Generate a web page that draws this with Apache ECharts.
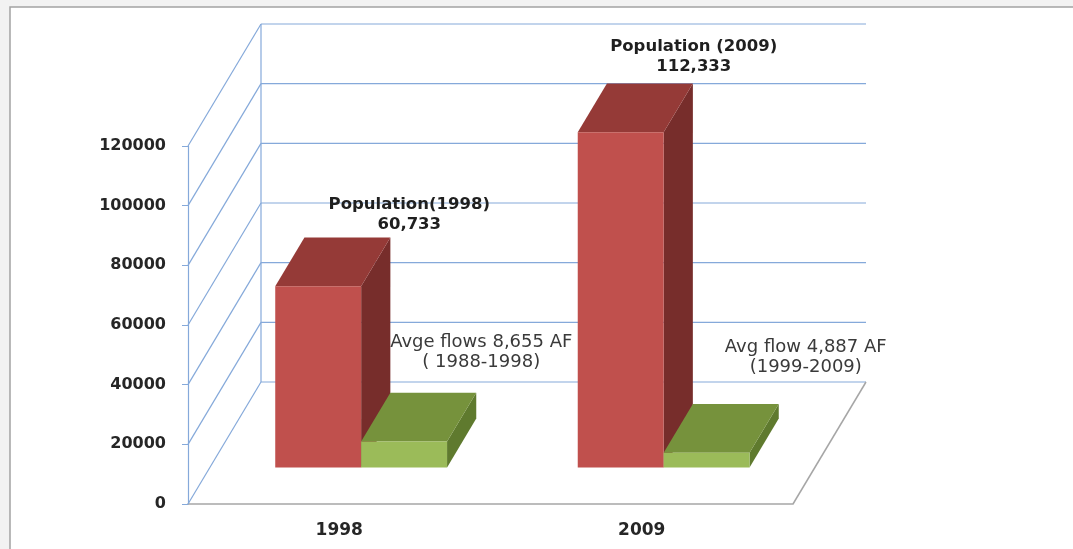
<!DOCTYPE html>
<html><head><meta charset="utf-8">
<script src="https://cdn.jsdelivr.net/npm/echarts@6/dist/echarts.min.js"></script>
<style>html,body{margin:0;padding:0;background:#ffffff;overflow:hidden;}#c{width:1073px;height:549px;}</style>
</head><body><div id="c"></div>
<script>
// ---- data ----
const categories = ['1998', '2009'];
const population = [60733, 112333];
const avgFlow = [8655, 4887];
const yTicks = [0, 20000, 40000, 60000, 80000, 100000, 120000];
const populationLabels = ['Population(1998)\n60,733', 'Population (2009)\n112,333'];
const flowLabels = ['Avge flows 8,655 AF\n( 1988-1998)', 'Avg flow 4,887 AF\n(1999-2009)'];

// ---- projection / style constants ----
const DX = 73, DY = -122;          // depth vector of the 3D box (px)
const FRONT = 0.3, DEPTH = 0.4, BAR = 0.284;
const BLUE = '#85a9da', GRAY = '#a6a6a6';
const POP_COLORS = {front: '#c0504d', top: '#953a37', side: '#772d2b'};
const FLOW_COLORS = {front: '#9bbb59', top: '#76923c', side: '#5f7a2e'};
const POP_LABEL_OFF = [[70, -108], [52, -112]];
const FLOW_LABEL_OFF = [[142, -126], [164, -132]];

function renderWalls(params, api) {
  const cs = params.coordSys;
  const v = api.value(1);
  const y = api.coord([0, v])[1];
  const x0 = cs.x, x1 = cs.x + cs.width;
  const children = [
    {type: 'line', shape: {x1: x0, y1: y, x2: x0 + DX, y2: y + DY}, style: {stroke: BLUE, lineWidth: 1.2}},
    {type: 'line', shape: {x1: x0 + DX, y1: y + DY, x2: x1 + DX, y2: y + DY}, style: {stroke: BLUE, lineWidth: 1.2}}
  ];
  if (params.dataIndex === 0) {
    const yTop = api.coord([0, yTicks[yTicks.length - 1]])[1];
    children.push({type: 'line', shape: {x1: x0 + DX, y1: y + DY, x2: x0 + DX, y2: yTop + DY}, style: {stroke: BLUE, lineWidth: 1.2}});
    children.push({type: 'line', shape: {x1: x1, y1: y, x2: x1 + DX, y2: y + DY}, style: {stroke: GRAY, lineWidth: 1.5}});
  }
  return {type: 'group', children: children};
}

function makeBarRenderer(side, colors, labels, offsets, textStyle) {
  return function (params, api) {
    const i = api.value(0);
    const v = api.value(1);
    const base = api.coord([i, 0]);
    const top = api.coord([i, v]);
    const band = api.size([1, 0])[0];
    const w = band * BAR;
    const fx = FRONT * DX, fy = FRONT * DY, bx = DEPTH * DX, by = DEPTH * DY;
    const xl = base[0] + fx + (side < 0 ? -w : 0);
    const xr = xl + w;
    const yb = base[1] + fy, yt = top[1] + fy;
    const off = offsets[params.dataIndex];
    return {
      type: 'group',
      children: [
        {type: 'polygon', shape: {points: [[xr, yt], [xr + bx, yt + by], [xr + bx, yb + by], [xr, yb]]}, style: {fill: colors.side}},
        {type: 'polygon', shape: {points: [[xl, yt], [xr, yt], [xr + bx, yt + by], [xl + bx, yt + by]]}, style: {fill: colors.top}},
        {type: 'rect', shape: {x: xl, y: yt, width: w, height: yb - yt}, style: {fill: colors.front}},
        {type: 'text', x: base[0] + off[0], y: top[1] + off[1], z2: 10,
          style: Object.assign({text: labels[params.dataIndex], align: 'center', verticalAlign: 'middle',
            textAlign: 'center', textVerticalAlign: 'middle', lineHeight: 20}, textStyle)}
      ]
    };
  };
}

const chart = echarts.init(document.getElementById('c'), null, {renderer: 'canvas'});
chart.setOption({
  backgroundColor: '#f2f2f2',
  animation: false,
  graphic: {elements: [{type: 'rect', z: -100, silent: true,
    shape: {x: 10, y: 7, width: 1300, height: 800},
    style: {fill: '#ffffff', stroke: '#a3a3a3', lineWidth: 1.5}}]},
  grid: {left: 188, right: 280, top: 146, bottom: 45},
  xAxis: {
    type: 'category', data: categories,
    axisLine: {lineStyle: {color: GRAY, width: 1.5}},
    axisTick: {show: false},
    axisLabel: {margin: 18, color: '#262626', fontFamily: 'DejaVu Sans', fontWeight: 'bold', fontSize: 17}
  },
  yAxis: {
    type: 'value', min: 0, max: 120000, interval: 20000,
    axisLine: {show: true, lineStyle: {color: BLUE, width: 1.2}},
    axisTick: {show: true, length: 6, lineStyle: {color: BLUE}},
    splitLine: {show: false},
    axisLabel: {margin: 22, color: '#262626', fontFamily: 'DejaVu Sans', fontWeight: 'bold', fontSize: 16,
      formatter: function (v) { return String(v); }}
  },
  series: [
    {type: 'custom', name: 'walls', z: 1, renderItem: renderWalls, data: yTicks.map(v => [0, v]), silent: true},
    {type: 'custom', name: 'Population', z: 3, renderItem: makeBarRenderer(-1, POP_COLORS, populationLabels, POP_LABEL_OFF,
      {fontFamily: 'DejaVu Sans', fontWeight: 'bold', fontSize: 16.5, fill: '#1f1f1f'}),
      data: population.map((v, i) => [i, v])},
    {type: 'custom', name: 'Avg flow', z: 4, renderItem: makeBarRenderer(1, FLOW_COLORS, flowLabels, FLOW_LABEL_OFF,
      {fontFamily: 'DejaVu Sans', fontWeight: 'normal', fontSize: 18, fill: '#3a3a3a'}),
      data: avgFlow.map((v, i) => [i, v])}
  ]
});
</script></body></html>
